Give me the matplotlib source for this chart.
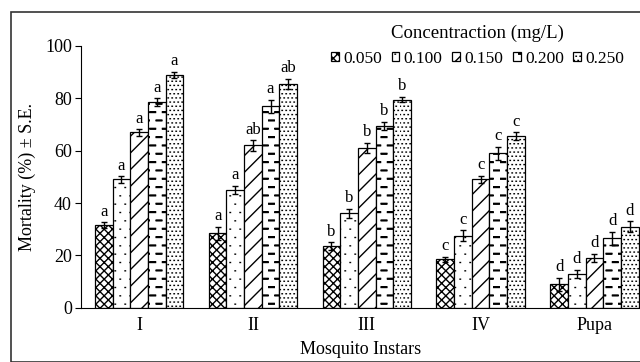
import matplotlib.pyplot as plt
import matplotlib.hatch as mhatch
import numpy as np
from matplotlib.path import Path
from matplotlib.patches import Rectangle

plt.rcParams['font.family'] = ['Liberation Serif', 'DejaVu Serif']
plt.rcParams['hatch.linewidth'] = 1.0

# Data
groups = ['I', 'II', 'III', 'IV', 'Pupa']
concs = ['0.050', '0.100', '0.150', '0.200', '0.250']
c050 = [31.5, 28.5, 23.5, 18.5, 9.0]
c100 = [49.0, 45.0, 36.0, 27.5, 13.0]
c150 = [67.0, 62.0, 61.0, 49.0, 19.0]
c200 = [78.5, 77.0, 69.5, 59.0, 26.5]
c250 = [89.0, 85.5, 79.5, 65.5, 31.0]
e050 = [1.2, 2.5, 1.5, 1.0, 2.5]
e100 = [1.2, 1.5, 1.8, 2.0, 1.5]
e150 = [1.2, 2.0, 2.0, 1.5, 1.5]
e200 = [1.5, 2.5, 1.5, 2.5, 2.5]
e250 = [1.2, 2.0, 1.0, 1.5, 2.0]
letters = [['a', 'a', 'b', 'c', 'd'],
           ['a', 'a', 'b', 'c', 'd'],
           ['a', 'ab', 'b', 'c', 'd'],
           ['a', 'a', 'b', 'c', 'd'],
           ['a', 'ab', 'b', 'c', 'd']]

values = [c050, c100, c150, c200, c250]
errors = [e050, e100, e150, e200, e250]


# custom hatch patterns: staggered dashes / dots in the unit (1 inch) tile
class StaggerHatch(mhatch.HatchPatternBase):
    # char: (columns per inch, rows per inch, segment length, thickness offsets)
    specs = {'D': (8, 12, 0.055, (0.0, 0.008)),
             'P': (10, 12, 0.005, (0.0,)),
             'Q': (25, 24, 0.004, (0.0,))}

    def __init__(self, hatch, density):
        self.segs = []
        for ch, (nc, nr, ln, offs) in self.specs.items():
            if ch in hatch:
                for r in range(nr):
                    y = (r + 0.5) / nr
                    shift = 0.5 / nc if r % 2 else 0.0
                    for c in range(nc):
                        x0 = c / nc + shift
                        for o in offs:
                            self.segs.append((x0, y + o, x0 + ln, y + o))
        self.num_vertices = len(self.segs) * 2

    def set_vertices_and_codes(self, vertices, codes):
        s = np.array(self.segs)
        vertices[0::2, 0] = s[:, 0]
        vertices[0::2, 1] = s[:, 1]
        vertices[1::2, 0] = s[:, 2]
        vertices[1::2, 1] = s[:, 3]
        codes[0::2] = Path.MOVETO
        codes[1::2] = Path.LINETO


mhatch._hatch_types.append(StaggerHatch)
hatches = ['xxxx', 'P', '//', 'D', 'Q']

fig = plt.figure(figsize=(6.4, 3.62), dpi=100)
ax = fig.add_axes([81/640, 1-307.7/362, 1-81/640, (307.7-46)/362])

x = np.arange(len(groups))
w = 0.155
for i in range(5):
    pos = x + (i - 2) * w
    ax.bar(pos, values[i], w, color='white', edgecolor='black', linewidth=0.9,
           hatch=hatches[i], label=concs[i],
           yerr=errors[i], error_kw=dict(ecolor='black', elinewidth=1, capsize=2.5, capthick=1))
    for j in range(len(groups)):
        ax.text(pos[j], values[i][j] + errors[i][j] + 1.0, letters[i][j],
                ha='center', va='bottom', fontsize=12)

ax.set_xlim(-0.51, 4.4)
ax.set_ylim(0, 100)
ax.set_yticks([0, 20, 40, 60, 80, 100])
ax.set_xticks(x)
ax.set_xticklabels(groups)
ax.tick_params(axis='x', length=0, labelsize=13, pad=7)
ax.tick_params(axis='y', length=4.5, labelsize=13, direction='out', pad=2)
for s in ['top', 'right']:
    ax.spines[s].set_visible(False)
ax.set_ylabel('Mortality (%) ± S.E.', fontsize=13)
ax.yaxis.set_label_coords(-0.08, 0.5)
ax.set_xlabel('Mosquito Instars', fontsize=13, labelpad=5)

leg = ax.legend(title='Concentraction (mg/L)', ncol=5, loc='upper right',
                bbox_to_anchor=(0.997, 1.135), frameon=False, fontsize=12.5,
                title_fontsize=13.5, handlelength=0.45, handleheight=0.45,
                handletextpad=0.25, columnspacing=0.55, borderpad=0.3)

fig.patches.append(Rectangle((11/640, 0), 1, 1 - 12/362, transform=fig.transFigure,
                             fill=False, edgecolor='#333333', linewidth=1.2))

fig.savefig('out.png', dpi=100)
